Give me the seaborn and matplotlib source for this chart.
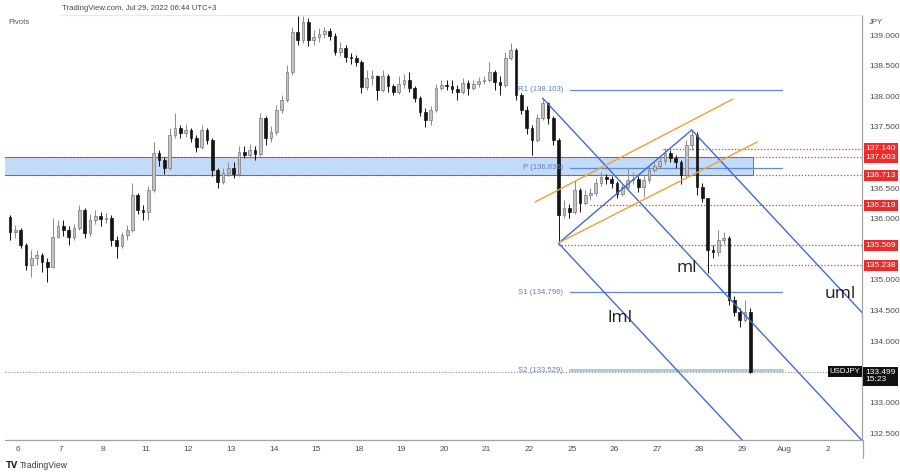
import numpy as np
import pandas as pd
import matplotlib
matplotlib.use("Agg")
import matplotlib.pyplot as plt
import matplotlib.transforms as mtransforms
from matplotlib.lines import Line2D
from matplotlib.patches import Rectangle
from matplotlib import font_manager
import seaborn as sns

# ---------------- data ----------------
day_labels = ['6', '7', '8', '11', '12', '13', '14', '15', '18', '19', '20',
              '21', '22', '25', '26', '27', '28', '29', 'Aug', '2']
candles_per_day = 8
pre_candles = 2
first_open = 136.03

closes = [
    135.78, 135.81,
    135.57, 135.25, 135.36, 135.41, 135.29, 135.21, 135.70, 135.88,  # Jul 6
    135.81, 135.70, 135.85, 136.14, 135.77, 135.98, 136.04, 136.00,  # Jul 7
    136.01, 135.65, 135.56, 135.73, 135.81, 136.39, 136.14, 136.11,  # Jul 8
    136.47, 137.07, 136.96, 136.83, 137.37, 137.48, 137.40, 137.45,  # Jul 11
    137.32, 137.17, 137.45, 137.29, 136.80, 136.60, 136.75, 136.83,  # Jul 12
    136.73, 137.09, 137.04, 137.12, 137.06, 137.64, 137.32, 137.42,  # Jul 13
    137.78, 137.94, 138.40, 139.05, 138.92, 139.21, 138.92, 138.97,  # Jul 14
    139.02, 139.07, 138.98, 138.72, 138.79, 138.64, 138.62, 138.56,  # Jul 15
    138.15, 138.30, 138.33, 138.10, 138.33, 138.17, 138.07, 138.20,  # Jul 18
    138.27, 138.14, 137.97, 137.74, 137.61, 137.78, 138.14, 138.18,  # Jul 19
    138.17, 138.12, 138.07, 138.22, 138.14, 138.20, 138.25, 138.27,  # Jul 20
    138.40, 138.23, 138.18, 138.62, 138.76, 138.02, 137.78, 137.48,  # Jul 21
    137.29, 137.64, 137.89, 137.64, 137.29, 136.06, 136.18, 136.11,  # Jul 22
    136.47, 136.26, 136.39, 136.42, 136.58, 136.68, 136.65, 136.58,  # Jul 25
    136.40, 136.52, 136.63, 136.65, 136.52, 136.63, 136.80, 136.86,  # Jul 26
    136.94, 137.07, 136.99, 136.93, 136.71, 137.20, 137.37, 136.52,  # Jul 27
    136.34, 135.49, 135.46, 135.65, 135.68, 134.67, 134.48, 134.35,  # Jul 28
    134.48, 133.499,                                                 # Jul 29
]
highs = [
    136.06, 135.90,
    135.85, 135.60, 135.49, 135.49, 135.44, 135.36, 136.01, 135.98,
    135.98, 135.88, 135.91, 136.22, 136.18, 136.08, 136.14, 136.11,
    136.09, 136.06, 135.72, 135.78, 135.90, 136.59, 136.42, 136.22,
    136.53, 137.25, 137.12, 137.01, 137.48, 137.73, 137.53, 137.55,
    137.48, 137.37, 137.53, 137.48, 137.32, 136.83, 136.83, 136.93,
    136.93, 137.19, 137.19, 137.22, 137.19, 137.73, 137.68, 137.51,
    137.86, 138.02, 138.51, 139.13, 139.31, 139.31, 139.28, 139.08,
    139.12, 139.13, 139.12, 139.03, 138.89, 138.84, 138.71, 138.67,
    138.59, 138.43, 138.43, 138.35, 138.43, 138.36, 138.20, 138.33,
    138.36, 138.40, 138.17, 138.00, 137.81, 137.84, 138.20, 138.27,
    138.27, 138.27, 138.18, 138.30, 138.27, 138.27, 138.31, 138.33,
    138.56, 138.43, 138.33, 138.72, 138.87, 138.79, 138.05, 137.84,
    137.53, 137.71, 137.97, 137.91, 137.68, 137.32, 136.31, 136.24,
    136.63, 136.50, 136.47, 136.50, 136.67, 136.76, 136.73, 136.70,
    136.62, 136.57, 136.83, 136.76, 136.70, 136.70, 136.86, 136.94,
    137.01, 137.16, 137.12, 137.04, 136.96, 137.29, 137.45, 137.42,
    136.58, 136.34, 135.57, 135.81, 135.78, 135.72, 134.74, 134.54,
    134.67, 134.54,
]
lows = [
    135.65, 135.69,
    135.52, 135.16, 135.05, 135.25, 135.13, 134.97, 135.20, 135.69,
    135.72, 135.57, 135.65, 135.81, 135.69, 135.72, 135.91, 135.88,
    135.93, 135.55, 135.36, 135.52, 135.65, 135.78, 136.08, 135.98,
    135.98, 136.44, 136.86, 136.73, 136.80, 137.32, 137.32, 137.34,
    137.25, 137.09, 137.14, 137.22, 136.70, 136.51, 136.57, 136.70,
    136.67, 136.70, 136.99, 136.99, 136.96, 137.02, 137.20, 137.25,
    137.37, 137.73, 137.91, 138.35, 138.84, 138.87, 138.82, 138.84,
    138.89, 138.95, 138.92, 138.67, 138.66, 138.56, 138.53, 138.49,
    138.05, 138.10, 138.18, 137.94, 138.07, 138.07, 138.02, 138.04,
    138.14, 138.07, 137.91, 137.68, 137.50, 137.53, 137.74, 138.10,
    138.10, 138.05, 137.94, 138.04, 138.02, 138.10, 138.15, 138.20,
    138.23, 138.10, 138.02, 138.15, 138.59, 137.94, 137.71, 137.38,
    137.04, 137.25, 137.61, 137.54, 137.20, 135.60, 136.01, 136.01,
    136.08, 136.11, 136.22, 136.31, 136.37, 136.54, 136.57, 136.50,
    136.34, 136.37, 136.49, 136.57, 136.44, 136.36, 136.58, 136.76,
    136.83, 136.89, 136.93, 136.83, 136.57, 136.67, 137.12, 136.39,
    136.27, 135.11, 135.36, 135.39, 135.59, 134.59, 134.41, 134.23,
    134.31, 133.48,
]

price_ticks = [132.5, 133.0, 134.0, 134.5, 135.0, 136.0, 136.5, 137.5, 138.0, 138.5, 139.0]
level_values = [137.140, 137.003, 136.713, 136.219, 135.569, 135.238]
zone_low, zone_high = 136.713, 137.003
pivot_names = ['R1', 'P', 'S1', 'S2']
pivot_values = [138.103, 136.836, 134.796, 133.529]
last_price = 133.499
symbol = 'USDJPY'
countdown = '15:23'
pitchfork_idx = [100, 103, 128]          # pivot high, pivot low, pivot high
pitchfork_kind = ['high', 'low', 'high']
channel_upper_days = [12.14, 16.78]
channel_upper_prices = [136.273, 137.955]
channel_lower_days = [12.68, 17.35]
channel_lower_prices = [135.604, 137.253]

# ---------------- style ----------------
sns.set_theme(style="white")
avail = {f.name for f in font_manager.fontManager.ttflist}
narrow = 'Liberation Sans Narrow' if 'Liberation Sans Narrow' in avail else 'Liberation Sans'
plt.rcParams['font.family'] = [narrow, 'DejaVu Sans']

W, H = 900, 475
fig = plt.figure(figsize=(9, 4.75), dpi=100)
fig.patch.set_facecolor('white')
ax = fig.add_axes([5 / W, 35 / H, 857 / W, 425 / H])
ax.set_facecolor('white')

XMIN, XMAX = -0.305, 19.81
YMIN, YMAX = 132.387, 139.327
ax.set_xlim(XMIN, XMAX)
ax.set_ylim(YMIN, YMAX)

# ---------------- candles ----------------
c = np.array(closes)
h = np.array(highs)
l = np.array(lows)
o = np.r_[first_open, c[:-1]]
n = len(c)
x = (np.arange(n) - pre_candles) / candles_per_day + 0.5 / candles_per_day
hi = np.maximum(h, np.maximum(o, c))
lo = np.minimum(l, np.minimum(o, c))
up = c >= o
body_lo = np.minimum(o, c)
body_h = np.maximum(np.abs(c - o), 0.012)
bw = 0.5 / candles_per_day

ax.vlines(x[up], lo[up], hi[up], color='#8a8a8a', lw=0.7, zorder=3)
ax.vlines(x[~up], lo[~up], hi[~up], color='#111111', lw=0.7, zorder=3)
ax.bar(x[up], body_h[up], bottom=body_lo[up], width=bw, color='#c4c4c4',
       edgecolor='#777777', linewidth=0.5, zorder=4)
ax.bar(x[~up], body_h[~up], bottom=body_lo[~up], width=bw, color='#141414',
       edgecolor='#141414', linewidth=0.5, zorder=4)

# ---------------- zone & levels ----------------
zone_right = 17.25
ax.add_patch(Rectangle((XMIN - 1, zone_low), zone_right - XMIN + 1, zone_high - zone_low,
                       facecolor='#c2dbf9', edgecolor='#3d64c4', lw=0.6, zorder=1))
level_starts = [15.14, XMIN, XMIN, 13.43, 12.68, 16.17]
for v, xs in zip(level_values, level_starts):
    ax.plot([xs, XMAX], [v, v], color='#d63a3a', lw=0.9, ls=(0, (1, 1.6)), zorder=2)

# current price dotted line
ax.plot([XMIN, XMAX], [last_price, last_price], color='#8f8f8f', lw=0.8,
        ls=(0, (1, 1.6)), zorder=2)

# pivots
pv_x0, pv_x1, pv_lab = 12.96, 17.93, 12.79
for name, v in zip(pivot_names, pivot_values):
    if name == 'S2':
        ax.plot([pv_x0, pv_x1], [v, v], color='#b7c8dc', lw=2.2, zorder=2)
    else:
        ax.plot([pv_x0, pv_x1], [v, v], color='#5f88d6', lw=0.9, zorder=2)
    ax.text(pv_lab, v, f'{name} ({v:.3f})', ha='right', va='center',
            fontsize=5.6, color='#5f80c4', zorder=6)

# ---------------- pitchfork ----------------
pf_x = x[pitchfork_idx]
pf_y = np.array([h[i] if k == 'high' else l[i] for i, k in zip(pitchfork_idx, pitchfork_kind)])
mx, my = (pf_x[1] + pf_x[2]) / 2, (pf_y[1] + pf_y[2]) / 2
slope = (my - pf_y[0]) / (mx - pf_x[0])
far = 30.0
blue = '#3f6bd3'
lines = []
for k in range(3):
    lines.append(pd.DataFrame({'d': [pf_x[k], far], 'p': [pf_y[k], pf_y[k] + slope * (far - pf_x[k])], 'g': f'pf{k}'}))
lines.append(pd.DataFrame({'d': [pf_x[1], pf_x[2]], 'p': [pf_y[1], pf_y[2]], 'g': 'bc'}))
pf_df = pd.concat(lines, ignore_index=True)
sns.lineplot(data=pf_df, x='d', y='p', units='g', estimator=None, sort=False,
             color=blue, lw=1.0, legend=False, ax=ax, zorder=5)

ch_df = pd.concat([
    pd.DataFrame({'d': channel_upper_days, 'p': channel_upper_prices, 'g': 'u'}),
    pd.DataFrame({'d': channel_lower_days, 'p': channel_lower_prices, 'g': 'l'}),
], ignore_index=True)
sns.lineplot(data=ch_df, x='d', y='p', units='g', estimator=None, sort=False,
             color='#f0a032', lw=1.0, legend=False, ax=ax, zorder=5)

for txt, dx, py in [('ml', 15.70, 135.196), ('lml', 14.13, 134.379), ('uml', 19.30, 134.771)]:
    ax.text(dx, py, txt, ha='center', va='center', fontsize=12.5, color='#1e1e1e',
            family=['Open Sans', 'DejaVu Sans'], zorder=7)

# ---------------- axes ----------------
ax.set_xlabel('')
ax.set_ylabel('')
ax.set_xticks(range(len(day_labels)))
ax.set_xticklabels(day_labels)
ax.yaxis.tick_right()
ax.set_yticks(price_ticks)
ax.set_yticklabels([f'{t:.3f}' for t in price_ticks])
ax.tick_params(axis='y', length=0, pad=5, labelsize=6, labelcolor='#4f4f4f')
ax.tick_params(axis='x', length=0, pad=4, labelsize=6, labelcolor='#4f4f4f')
for s in ['top', 'left']:
    ax.spines[s].set_visible(False)
for s in ['right', 'bottom']:
    ax.spines[s].set_color('#a3a3a3')
    ax.spines[s].set_linewidth(0.9)
ax.grid(False)

# right-axis labels
trans = mtransforms.blended_transform_factory(ax.transAxes, ax.transData)
lab_x = 1 + 3.5 / 857
for v in level_values:
    ax.text(lab_x, v, f'{v:.3f}', transform=trans, ha='left', va='center', fontsize=6,
            color='white', zorder=10, clip_on=False,
            bbox=dict(boxstyle='square,pad=0.24', fc='#ee2b2b', ec='none'))
ax.text(lab_x, last_price - 0.07, f'{last_price:.3f}\n{countdown}', transform=trans,
        ha='left', va='center', fontsize=6, color='white', linespacing=1.05,
        zorder=10, clip_on=False,
        bbox=dict(boxstyle='square,pad=0.3', fc='#111111', ec='none'))
ax.text(1 - 1.5 / 857, last_price, symbol, transform=trans, ha='right', va='center',
        fontsize=5.6, color='white', zorder=10, clip_on=False,
        bbox=dict(boxstyle='square,pad=0.25', fc='#111111', ec='none'))

# figure-level decorations
fig.add_artist(Line2D([863 / W, 863 / W], [1 - 440 / H, 1 - 458 / H], color='#a3a3a3', lw=0.9))
fig.add_artist(Line2D([60 / W, 862 / W], [1 - 15 / H, 1 - 15 / H], color='#e8e8e8', lw=0.8))
fig.text(62 / W, 1 - 8 / H, 'TradingView.com, Jul 29, 2022 06:44 UTC+3', fontsize=5.6,
         color='#474747', va='center', ha='left')
fig.text(8 / W, 1 - 23 / H, 'Pivots', fontsize=5.6, color='#575757', va='center', ha='left')
fig.text(869 / W, 1 - 22 / H, 'JPY', fontsize=5.6, color='#575757', va='center', ha='left')
fig.text(6 / W, 1 - 465 / H, 'TV', fontsize=6, color='#2a2a2a', va='center', ha='left',
         fontweight='bold', family=['DejaVu Sans'])
fig.text(20 / W, 1 - 465 / H, 'TradingView', fontsize=6.2, color='#3a3a3a', va='center', ha='left')

fig.savefig('out.png', dpi=100, facecolor='white')
